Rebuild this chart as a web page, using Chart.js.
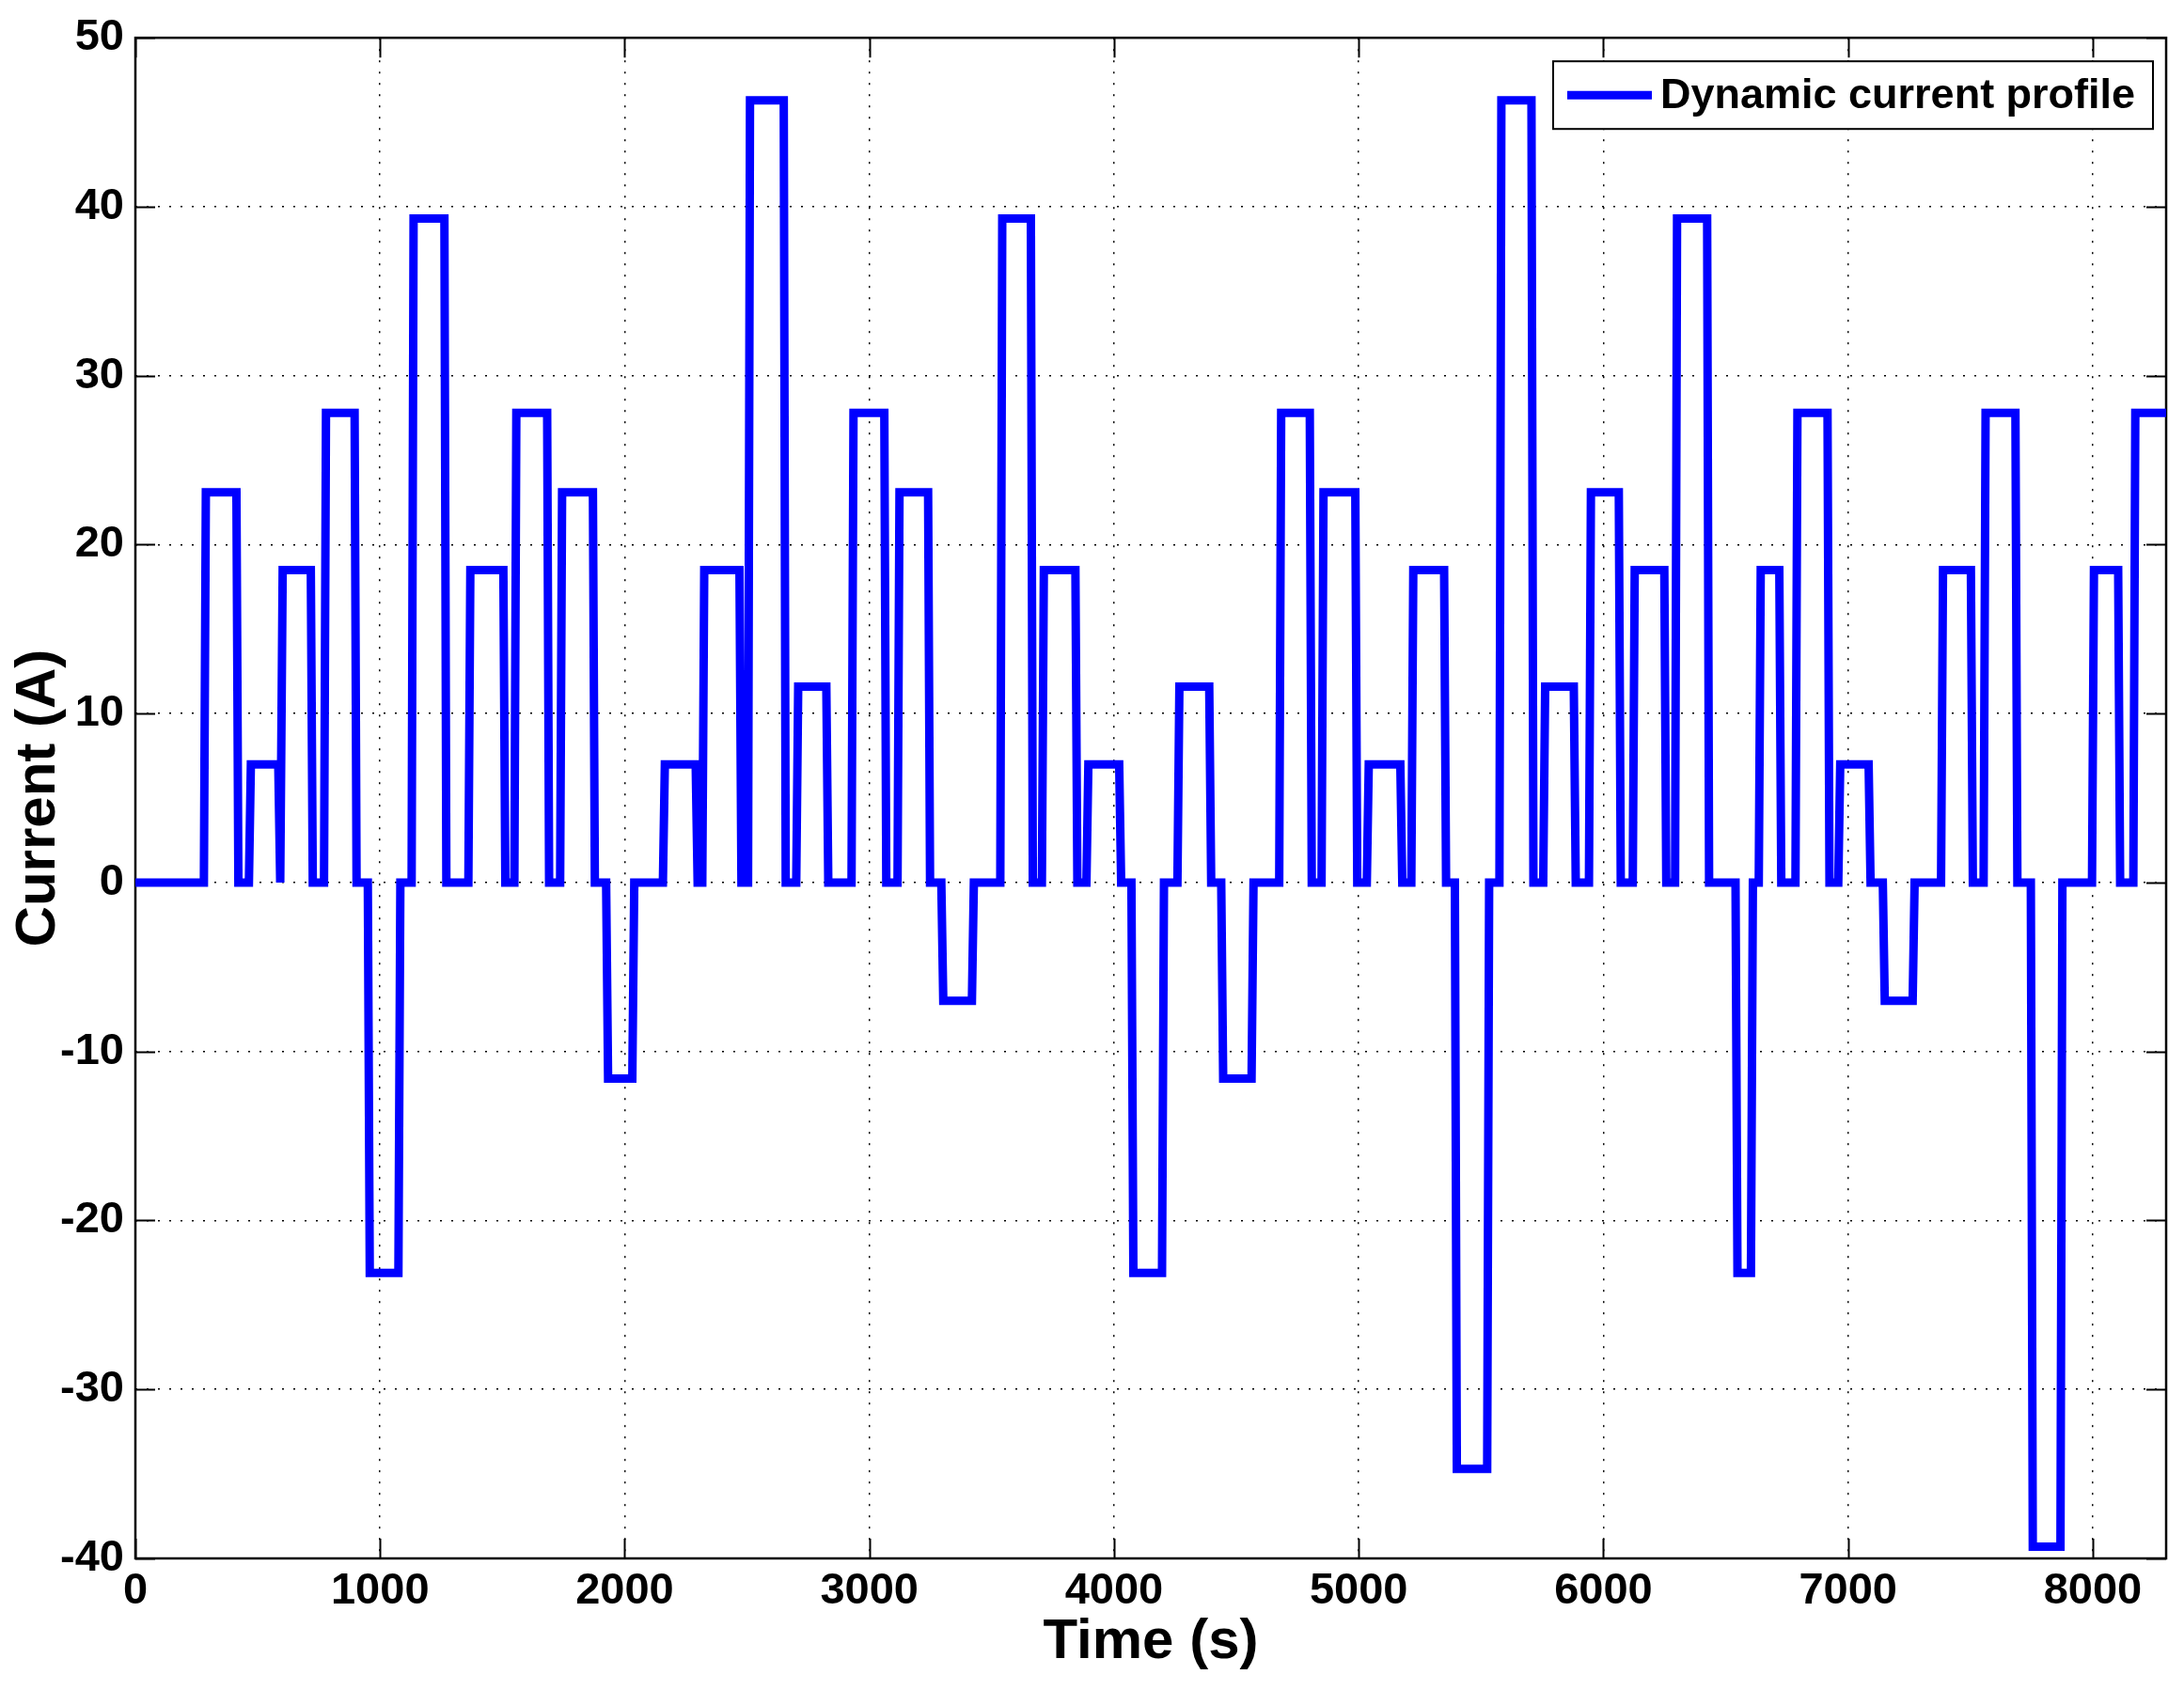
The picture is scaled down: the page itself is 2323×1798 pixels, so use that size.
<!DOCTYPE html>
<html>
<head>
<meta charset="utf-8">
<script src="https://cdn.jsdelivr.net/npm/chart.js@4.4.0/dist/chart.umd.min.js"></script>
<style>
html,body{margin:0;padding:0;background:#ffffff;}
#wrap{width:2323px;height:1798px;}
</style>
</head>
<body>
<div id="wrap"><canvas id="c" width="2323" height="1798"></canvas></div>
<script>
// ---- data ----
const stepTimes = [0, 280, 413, 464, 584, 594, 717, 771, 896, 950, 1075, 1129, 1263, 1361, 1504, 1549, 1683, 1736, 1870, 1924,
  2031, 2156, 2290, 2317, 2469, 2504, 2650, 2701, 2824, 2927, 3061, 3115, 3240, 3294, 3419, 3535, 3660, 3705, 3842, 3887,
  4021, 4071, 4196, 4259, 4389, 4438, 4562, 4675, 4800, 4848, 4986, 5033, 5170, 5215, 5349, 5393, 5525, 5575, 5706, 5754,
  5879, 5941, 6063, 6120, 6249, 6293, 6424, 6540, 6603, 6635, 6719, 6785, 6916, 6960, 7084, 7142, 7264, 7380, 7502, 7554,
  7684, 7747, 7868, 7997, 8104, 8166];
const stepLevels = [0, 23.1, 0, 7.0, 0, 18.5, 0, 27.8, 0, -23.1, 0, 39.3, 0, 18.5, 0, 27.8, 0, 23.1, 0, -11.6,
  0, 7.0, 0, 18.5, 0, 46.3, 0, 11.6, 0, 27.8, 0, 23.1, 0, -7.0, 0, 39.3, 0, 18.5, 0, 7.0,
  0, -23.1, 0, 11.6, 0, -11.6, 0, 27.8, 0, 23.1, 0, 7.0, 0, 18.5, 0, -34.7, 0, 46.3, 0, 11.6,
  0, 23.1, 0, 18.5, 0, 39.3, 0, -23.1, 0, 18.5, 0, 27.8, 0, 7.0, 0, -7.0, 0, 18.5, 0, 27.8,
  0, -39.3, 0, 18.5, 0, 27.8];
const endTime = 8300;
const rampSeconds = 8;
const xTickValues = [0, 1000, 2000, 3000, 4000, 5000, 6000, 7000, 8000];
const yTickValues = [-40, -30, -20, -10, 0, 10, 20, 30, 40, 50];
const seriesLabel = 'Dynamic current profile';
const xTitle = 'Time (s)';
const yTitle = 'Current (A)';

// ---- build step profile points ----
const points = [];
for (let i = 0; i < stepTimes.length; i++) {
  const start = stepTimes[i];
  const stop = (i + 1 < stepTimes.length) ? stepTimes[i + 1] : endTime;
  points.push({x: i === 0 ? start : start + rampSeconds, y: stepLevels[i]});
  points.push({x: stop, y: stepLevels[i]});
}

const FONT = "'Liberation Sans', Arial, Helvetica, sans-serif";
const BLUE = '#0000ff';

const frameTicks = {
  id: 'frameTicks',
  beforeDatasetsDraw(chart) {
    const {ctx, chartArea: a, scales: {x, y}} = chart;
    ctx.save();
    ctx.setLineDash([]);
    ctx.strokeStyle = '#000';
    ctx.lineWidth = 2;
    const L = 21;
    ctx.beginPath();
    xTickValues.forEach(v => {
      const px = Math.round(x.getPixelForValue(v)) + 0.5;
      ctx.moveTo(px, a.bottom); ctx.lineTo(px, a.bottom - L);
      ctx.moveTo(px, a.top); ctx.lineTo(px, a.top + L);
    });
    yTickValues.forEach(v => {
      const py = Math.round(y.getPixelForValue(v)) + 0.5;
      ctx.moveTo(a.left, py); ctx.lineTo(a.left + L, py);
      ctx.moveTo(a.right, py); ctx.lineTo(a.right - L, py);
    });
    ctx.stroke();
    ctx.lineWidth = 2.5;
    ctx.strokeRect(a.left, a.top, a.right - a.left, a.bottom - a.top);
    ctx.restore();
  }
};

const boxLegend = {
  id: 'boxLegend',
  afterDraw(chart) {
    const {ctx, chartArea: a} = chart;
    const bw = 638, bh = 72;
    const bx = a.right - 14 - bw, by = a.top + 25;
    ctx.save();
    ctx.setLineDash([]);
    ctx.fillStyle = '#fff';
    ctx.fillRect(bx, by, bw, bh);
    ctx.strokeStyle = '#000';
    ctx.lineWidth = 2;
    ctx.strokeRect(bx, by, bw, bh);
    const cy = by + bh / 2;
    ctx.strokeStyle = BLUE;
    ctx.lineWidth = 9;
    ctx.beginPath();
    ctx.moveTo(bx + 15, cy); ctx.lineTo(bx + 105, cy);
    ctx.stroke();
    ctx.fillStyle = '#000';
    ctx.font = "bold 45px " + FONT;
    ctx.textBaseline = 'middle';
    ctx.textAlign = 'left';
    ctx.fillText(seriesLabel, bx + 114, cy + 1);
    ctx.restore();
  }
};

new Chart(document.getElementById('c'), {
  type: 'line',
  data: {
    datasets: [{
      label: seriesLabel,
      data: points,
      borderColor: BLUE,
      backgroundColor: BLUE,
      borderWidth: 9,
      pointRadius: 0,
      tension: 0,
      fill: false,
      borderJoinStyle: 'miter',
      borderCapStyle: 'butt'
    }]
  },
  options: {
    responsive: false,
    animation: false,
    devicePixelRatio: 1,
    parsing: true,
    layout: {padding: {left: 0, top: 37, right: 19, bottom: 0}},
    plugins: {legend: {display: false}, tooltip: {enabled: false}},
    scales: {
      x: {
        type: 'linear',
        min: 0,
        max: endTime,
        afterFit(s) { s.height = 140; },
        afterBuildTicks(s) { s.ticks = xTickValues.map(v => ({value: v})); },
        ticks: {
          includeBounds: false, autoSkip: false, maxRotation: 0, minRotation: 0,
          padding: 7, color: '#000',
          font: {family: FONT, size: 47, weight: 'bold'},
          callback: v => String(v)
        },
        grid: {color: '#000', lineWidth: 1.5, drawTicks: false, borderDash: [2, 10]},
        border: {display: false, dash: [2, 10]},
        title: {display: true, text: xTitle, color: '#000',
          font: {family: FONT, size: 60, weight: 'bold'}, padding: {top: 0, bottom: 15}}
      },
      y: {
        type: 'linear',
        min: -40,
        max: 50,
        afterFit(s) { s.width = 144; },
        afterBuildTicks(s) { s.ticks = yTickValues.map(v => ({value: v})); },
        ticks: {
          includeBounds: false, autoSkip: false,
          padding: 12, color: '#000',
          font: {family: FONT, size: 47, weight: 'bold'},
          callback: v => String(v)
        },
        grid: {color: '#000', lineWidth: 1.5, drawTicks: false, borderDash: [2, 10]},
        border: {display: false, dash: [2, 10]},
        title: {display: true, text: yTitle, color: '#000',
          font: {family: FONT, size: 60, weight: 'bold'}, padding: {top: 5, bottom: 0}}
      }
    }
  },
  plugins: [frameTicks, boxLegend]
});
</script>
</body>
</html>
